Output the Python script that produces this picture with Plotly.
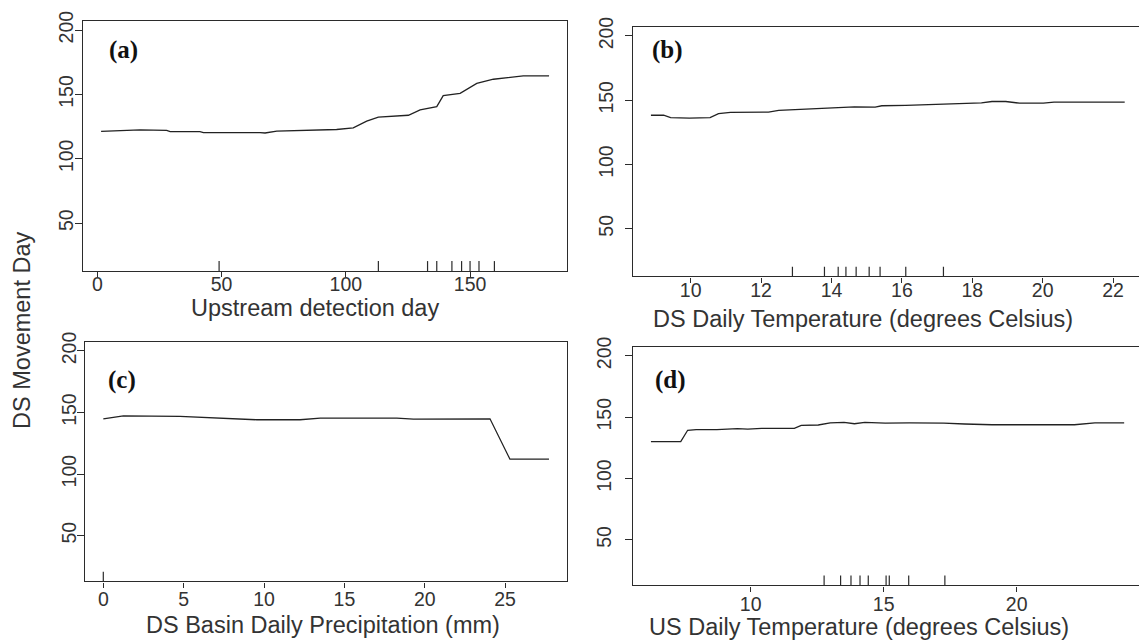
import plotly.graph_objects as go

W, H = 1139, 644

# ---------------- data ----------------
a_x = [1.5, 17.2, 27.9, 29.3, 41.3, 42.7, 65.5, 67.5, 72.2, 86.8, 96.3, 103, 108.4,
       113.1, 125.2, 129.9, 136.6, 139.2, 146, 152.7, 159.4, 171.4, 181.8]
a_y = [121.3, 122.5, 122, 121, 121, 120.3, 120.3, 120, 121.5, 122.5, 122.7, 124, 129.2,
       132.3, 133.8, 138, 140.5, 149, 150.8, 158.5, 161.8, 164.4, 164.4]
a_rug = [49, 113.1, 132.9, 136.6, 142.7, 146.6, 150, 153.6, 159.8]

b_x = [8.87, 9.23, 9.43, 9.96, 10.55, 10.79, 11.13, 12.21, 12.5, 13.77, 14.26, 14.65,
       15.24, 15.43, 16.11, 17.19, 17.48, 18.26, 18.56, 18.95, 19.34, 20.02, 20.32, 22.33]
b_y = [138.3, 138.3, 136.5, 136, 136.5, 139.5, 140.6, 140.8, 142.1, 143.6, 143.9, 144.9,
       144.7, 145.7, 146, 146.9, 147.7, 147.9, 149, 149, 147.7, 147.7, 148.5, 148.5]
b_rug = [12.89, 13.8, 14.19, 14.41, 14.7, 15.07, 15.38, 16.11, 17.18]

c_x = [0, 1.25, 4.77, 9.55, 12.24, 13.5, 18.26, 19.3, 24.06, 25.3, 27.73]
c_y = [144.9, 147.3, 146.8, 144.1, 144.1, 145.4, 145.4, 144.6, 144.9, 112.1, 112.1]
c_rug = [0]

d_x = [6.25, 7.37, 7.63, 7.95, 8.73, 9.5, 9.89, 10.41, 11.64, 11.9, 12.54, 12.99, 13.51,
       13.9, 14.29, 15.06, 15.97, 17.26, 18.04, 19.07, 22.17, 22.94, 24.04]
d_y = [130, 130, 139.3, 139.8, 139.8, 140.6, 140.2, 140.9, 140.9, 143.3, 143.6, 145.4, 145.7,
       144.6, 145.7, 145.2, 145.4, 145.2, 144.4, 143.8, 143.8, 145.4, 145.4]
d_rug = [12.76, 13.38, 13.77, 14.11, 14.42, 15.09, 15.21, 15.94, 17.3]

panel_labels = ["(a)", "(b)", "(c)", "(d)"]
label_pos = [(10.5, 184.6), (9.33, 189), (1.15, 176.7), (6.98, 179.9)]
x_titles = ["Upstream detection day", "DS Daily Temperature (degrees Celsius)",
            "DS Basin Daily Precipitation (mm)", "US Daily Temperature (degrees Celsius)"]
y_title = "DS Movement Day"
y_ticks = [50, 100, 150, 200]
x_ticks = [[0, 50, 100, 150], [10, 12, 14, 16, 18, 20, 22],
           [0, 5, 10, 15, 20, 25], [10, 15, 20]]

# ---------------- layout helpers ----------------
def px(x):
    return x / W

def py(y):
    return 1 - y / H

# panel boxes in pixels: left, right, top, bottom
boxes = [(82.7, 566.7, 11, 265), (632.7, 1139, 17, 270.7),
         (85.3, 567.3, 337.3, 580.5), (632.7, 1139, 342.3, 584.5)]
x_ranges = [[-5.9, 188.9], [8.352, 22.736], [-1.12, 28.87], [5.564, 24.598]]
y_range = [12.8, 207.2]
full_box = [True, False, True, False]
x_standoff = [-9, -9, -5, -4]
y_standoff = [-6, 4, -7, 6]

LINE = "#2b2b2b"
TXT = "#333333"
TICKFONT = dict(family="Liberation Sans, Arial, sans-serif", size=19.5, color=TXT)

fig = go.Figure()
series = [(a_x, a_y, a_rug), (b_x, b_y, b_rug), (c_x, c_y, c_rug), (d_x, d_y, d_rug)]

layout = {}
for i, (xs, ys, rug) in enumerate(series):
    n = "" if i == 0 else str(i + 1)
    xa, ya = "x" + n, "y" + n
    fig.add_trace(go.Scatter(x=xs, y=ys, mode="lines", xaxis=xa, yaxis=ya,
                             line=dict(color="#222222", width=1.3), showlegend=False,
                             hoverinfo="skip"))
    fig.add_trace(go.Scatter(x=rug, y=[y_range[0]] * len(rug), mode="markers",
                             xaxis=xa, yaxis=ya, showlegend=False, hoverinfo="skip",
                             marker=dict(symbol="line-ns", size=14,
                                         line=dict(color=LINE, width=1.2))))
    l, r, t, b = boxes[i]
    layout["xaxis" + n] = dict(
        domain=[px(l), px(r)], range=x_ranges[i], anchor=ya,
        showline=True, mirror=True, linecolor=LINE, linewidth=1.3,
        ticks="outside", ticklen=5, tickwidth=1.2, tickcolor=LINE,
        tickvals=x_ticks[i], tickfont=TICKFONT, showgrid=False, zeroline=False,
        ticklabelstandoff=x_standoff[i],
    )
    layout["yaxis" + n] = dict(
        domain=[py(b), py(t)], range=y_range, anchor=xa,
        showline=True, mirror=full_box[i], linecolor=LINE, linewidth=1.3,
        ticks="outside", ticklen=7, tickwidth=1.2, tickcolor=LINE,
        tickvals=y_ticks, tickangle=-90, tickfont=TICKFONT,
        showgrid=False, zeroline=False, ticklabelstandoff=y_standoff[i],
    )

annotations = []
for i, lab in enumerate(panel_labels):
    n = "" if i == 0 else str(i + 1)
    annotations.append(dict(text="<b>%s</b>" % lab, x=label_pos[i][0], y=label_pos[i][1],
                            xref="x" + n, yref="y" + n, showarrow=False,
                            font=dict(family="Liberation Serif, Times New Roman, serif",
                                      size=25, color="#111111")))

title_pos = [(315, 303), (863, 314), (322.5, 625), (859, 626.5)]
for i, t in enumerate(x_titles):
    annotations.append(dict(text=t, x=px(title_pos[i][0]), y=py(title_pos[i][1]),
                            xref="paper", yref="paper", showarrow=False,
                            xanchor="center", yanchor="middle",
                            font=dict(family="Liberation Sans, Arial, sans-serif",
                                      size=23.5, color=TXT)))
annotations.append(dict(text=y_title, x=px(22), y=py(326), xref="paper", yref="paper",
                        showarrow=False, textangle=-90, xanchor="center", yanchor="middle",
                        font=dict(family="Liberation Sans, Arial, sans-serif",
                                  size=23.5, color=TXT)))

fig.update_layout(width=W, height=H, margin=dict(l=0, r=0, t=0, b=0),
                  paper_bgcolor="white", plot_bgcolor="white",
                  annotations=annotations, **layout)

fig.write_html("out.html", config={"displayModeBar": False},
               post_script="document.body.style.margin='0';document.body.style.overflow='hidden';")
